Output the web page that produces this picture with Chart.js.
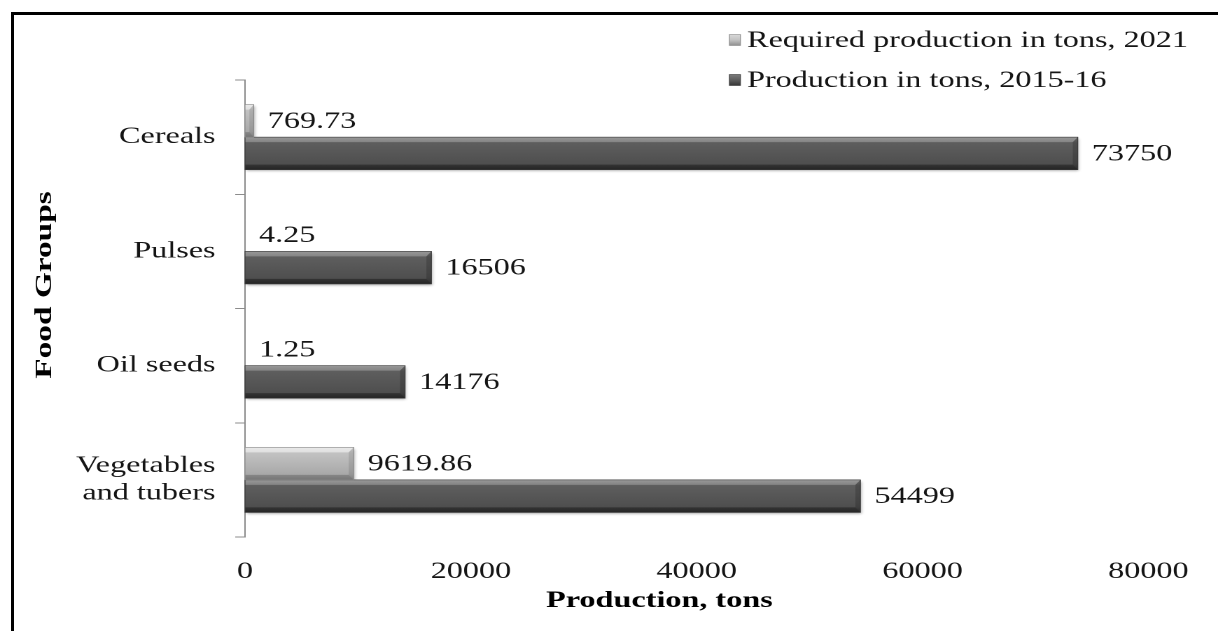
<!DOCTYPE html>
<html>
<head>
<meta charset="utf-8">
<script src="https://cdn.jsdelivr.net/npm/chart.js@4/dist/chart.umd.min.js"></script>
<style>
  html, body { margin: 0; padding: 0; background: #fff; }
  body { width: 1218px; height: 631px; position: relative; overflow: hidden; }
  #stage { position: absolute; left: 0; top: 0; width: 870px; height: 631px;
           transform: scaleX(1.4); transform-origin: 0 0; }
  #frame { position: absolute; left: 11px; top: 12px; right: 0; bottom: 0;
           border-top: 3px solid #000; border-left: 3px solid #000; pointer-events: none; }
</style>
</head>
<body>
<div id="stage"><canvas id="chart"></canvas></div>
<div id="frame"></div>
<script>
// Food groups shown on the category axis
const categories = ['Cereals', 'Pulses', 'Oil seeds', ['Vegetables', 'and tubers']];
// Required production in tons, 2021
const required2021 = [769.73, 4.25, 1.25, 9619.86];
// Production in tons, 2015-16
const production2015 = [73750, 16506, 14176, 54499];
// Value axis ticks
const xTicks = [0, 20000, 40000, 60000, 80000];

const SX = 1.4;                       // horizontal stretch of the drawing
const FONT = "'Liberation Serif', 'Times New Roman', serif";
const INK = '#151515';

const palettes = [
  { stops: ['#d9d9d9', '#c2c2c2', '#a9a9a9', '#8f8f8f'], top: 'rgba(255,255,255,0.45)', bottom: 'rgba(0,0,0,0.18)', end: 'rgba(0,0,0,0.10)', edge: '#8a8a8a' },
  { stops: ['#7c7c7c', '#5e5e5e', '#4f4f4f', '#363636'], top: 'rgba(255,255,255,0.22)', bottom: 'rgba(0,0,0,0.30)', end: 'rgba(0,0,0,0.18)', edge: '#3a3a3a' }
];

// Paints the bevelled look over a horizontal bar rectangle
function paintBevel(ctx, x0, x1, yTop, yBot, pal) {
  const w = x1 - x0, h = yBot - yTop;
  if (w <= 0.5) return;
  const g = ctx.createLinearGradient(0, yTop, 0, yBot);
  g.addColorStop(0, pal.stops[0]);
  g.addColorStop(0.18, pal.stops[1]);
  g.addColorStop(0.82, pal.stops[2]);
  g.addColorStop(1, pal.stops[3]);
  ctx.fillStyle = g;
  ctx.fillRect(x0, yTop, w, h);
  const b = Math.min(5, h / 4);
  const bx = Math.min(b / SX, w / 2);
  // top face
  ctx.fillStyle = pal.top;
  ctx.beginPath();
  ctx.moveTo(x0, yTop); ctx.lineTo(x1, yTop); ctx.lineTo(x1 - bx, yTop + b); ctx.lineTo(x0, yTop + b);
  ctx.closePath(); ctx.fill();
  // bottom face
  ctx.fillStyle = pal.bottom;
  ctx.beginPath();
  ctx.moveTo(x0, yBot); ctx.lineTo(x1, yBot); ctx.lineTo(x1 - bx, yBot - b); ctx.lineTo(x0, yBot - b);
  ctx.closePath(); ctx.fill();
  // end face
  ctx.fillStyle = pal.end;
  ctx.beginPath();
  ctx.moveTo(x1, yTop); ctx.lineTo(x1, yBot); ctx.lineTo(x1 - bx, yBot - b); ctx.lineTo(x1 - bx, yTop + b);
  ctx.closePath(); ctx.fill();
  ctx.strokeStyle = pal.edge;
  ctx.lineWidth = 0.6;
  ctx.strokeRect(x0, yTop, w, h);
}

const bevelPlugin = {
  id: 'bevel',
  beforeDatasetsDraw(chart) {
    const ctx = chart.ctx;
    ctx.save();
    ctx.shadowColor = 'rgba(0,0,0,0.35)';
    ctx.shadowBlur = 5;
    ctx.shadowOffsetX = 1.5;
    ctx.shadowOffsetY = 3;
  },
  afterDatasetsDraw(chart) {
    const ctx = chart.ctx;
    ctx.restore();
    // bars were filled by the library; overlay the shading on each element
    for (let d = chart.data.datasets.length - 1; d >= 0; d--) {
      const meta = chart.getDatasetMeta(d);
      meta.data.forEach(el => {
        const half = el.height / 2;
        paintBevel(ctx, Math.min(el.base, el.x), Math.max(el.base, el.x), el.y - half, el.y + half, palettes[d]);
      });
    }
    // value labels at the end of every bar
    ctx.save();
    ctx.font = '23px ' + FONT;
    ctx.fillStyle = INK;
    ctx.textAlign = 'left';
    ctx.textBaseline = 'middle';
    chart.data.datasets.forEach((ds, d) => {
      const meta = chart.getDatasetMeta(d);
      meta.data.forEach((el, i) => {
        ctx.fillText(String(ds.data[i]), el.x + 10, el.y + 1);
      });
    });
    ctx.restore();
  }
};

const decorPlugin = {
  id: 'decor',
  afterDraw(chart) {
    const ctx = chart.ctx;
    ctx.save();
    // legend, one entry per row
    ctx.font = '23px ' + FONT;
    ctx.textAlign = 'left';
    ctx.textBaseline = 'alphabetic';
    chart.data.datasets.forEach((ds, d) => {
      const yMid = 40 + d * 40;
      const mx = 521, mw = 11 / SX, mh = 11;
      const g = ctx.createLinearGradient(0, yMid - mh / 2, 0, yMid + mh / 2);
      g.addColorStop(0, palettes[d].stops[0]);
      g.addColorStop(0.5, palettes[d].stops[1]);
      g.addColorStop(1, palettes[d].stops[3]);
      ctx.fillStyle = g;
      ctx.fillRect(mx, yMid - mh / 2, mw, mh);
      ctx.strokeStyle = palettes[d].edge;
      ctx.lineWidth = 0.6;
      ctx.strokeRect(mx, yMid - mh / 2, mw, mh);
      ctx.fillStyle = INK;
      ctx.fillText(ds.label, 533.6, yMid + 7);
    });
    // value axis title
    ctx.font = 'bold 23px ' + FONT;
    ctx.textAlign = 'center';
    ctx.textBaseline = 'middle';
    ctx.fillStyle = '#000';
    ctx.fillText('Production, tons', 471, 601);
    // category axis title
    ctx.translate(45 / SX, 285);
    ctx.rotate(-Math.PI / 2);
    ctx.scale(1.45, 0.72);
    ctx.fillText('Food Groups', 0, 0);
    ctx.restore();
  }
};

new Chart(document.getElementById('chart'), {
  type: 'bar',
  data: {
    labels: categories,
    datasets: [
      { label: 'Required production in tons, 2021', data: required2021, backgroundColor: '#b5b5b5', borderWidth: 0 },
      { label: 'Production in tons, 2015-16', data: production2015, backgroundColor: '#555555', borderWidth: 0 }
    ]
  },
  options: {
    indexAxis: 'y',
    responsive: true,
    maintainAspectRatio: false,
    devicePixelRatio: 2,
    animation: false,
    categoryPercentage: 0.57,
    barPercentage: 1.0,
    layout: { padding: { top: 80, right: 45, left: 0, bottom: 0 } },
    plugins: { legend: { display: false }, tooltip: { enabled: false } },
    scales: {
      x: {
        type: 'linear',
        min: 0,
        max: 80000,
        afterFit(scale) { scale.height = 94; },
        afterBuildTicks(scale) { scale.ticks = xTicks.map(v => ({ value: v })); },
        grid: { display: false, drawTicks: false },
        border: { display: false },
        ticks: { padding: 21, color: INK, font: { family: FONT, size: 23 }, maxRotation: 0,
                 callback: v => String(v) }
      },
      y: {
        afterFit(scale) { scale.width = 175; },
        grid: { display: true, drawOnChartArea: false, drawTicks: true, tickLength: 7, color: '#8c8c8c', offset: true },
        border: { display: true, color: '#8c8c8c', width: 1 },
        ticks: { padding: 14, color: INK, font: { family: FONT, size: 23, lineHeight: 1.2 } }
      }
    }
  },
  plugins: [bevelPlugin, decorPlugin]
});
</script>
</body>
</html>
